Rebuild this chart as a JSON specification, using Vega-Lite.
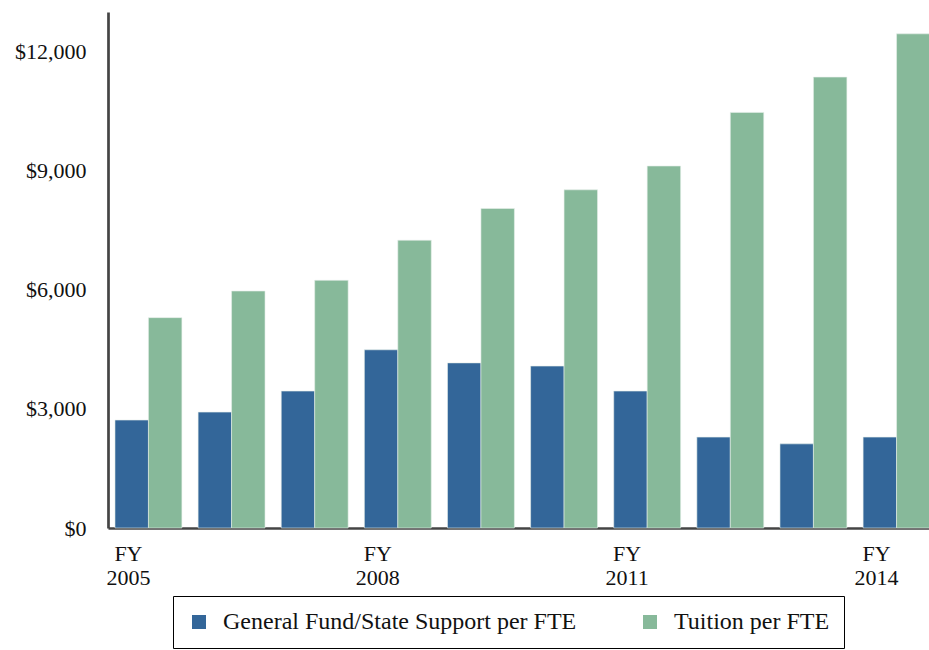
{
  "$schema": "https://vega.github.io/schema/vega-lite/v6.json",
  "autosize": {"type": "none"},
  "padding": {"left": 108, "top": 12, "right": 0, "bottom": 122},
  "width": 829,
  "height": 516,
  "background": "white",
  "config": {
    "view": {"stroke": null},
    "font": "Liberation Serif"
  },
  "data": {
    "values": [
      {"year": "2005", "series": "General Fund/State Support per FTE", "value": 2720},
      {"year": "2005", "series": "Tuition per FTE", "value": 5300},
      {"year": "2006", "series": "General Fund/State Support per FTE", "value": 2920},
      {"year": "2006", "series": "Tuition per FTE", "value": 5970},
      {"year": "2007", "series": "General Fund/State Support per FTE", "value": 3450},
      {"year": "2007", "series": "Tuition per FTE", "value": 6240},
      {"year": "2008", "series": "General Fund/State Support per FTE", "value": 4490},
      {"year": "2008", "series": "Tuition per FTE", "value": 7250},
      {"year": "2009", "series": "General Fund/State Support per FTE", "value": 4160},
      {"year": "2009", "series": "Tuition per FTE", "value": 8050},
      {"year": "2010", "series": "General Fund/State Support per FTE", "value": 4080},
      {"year": "2010", "series": "Tuition per FTE", "value": 8520},
      {"year": "2011", "series": "General Fund/State Support per FTE", "value": 3450},
      {"year": "2011", "series": "Tuition per FTE", "value": 9120},
      {"year": "2012", "series": "General Fund/State Support per FTE", "value": 2290},
      {"year": "2012", "series": "Tuition per FTE", "value": 10470},
      {"year": "2013", "series": "General Fund/State Support per FTE", "value": 2120},
      {"year": "2013", "series": "Tuition per FTE", "value": 11360},
      {"year": "2014", "series": "General Fund/State Support per FTE", "value": 2290},
      {"year": "2014", "series": "Tuition per FTE", "value": 12450}
    ]
  },
  "mark": {"type": "bar", "stroke": "#e6eee9", "strokeWidth": 0.6},
  "encoding": {
    "x": {
      "field": "year",
      "type": "nominal",
      "sort": null,
      "scale": {"paddingInner": 0.195, "paddingOuter": 0.084},
      "axis": {
        "title": null,
        "labelAngle": 0,
        "ticks": false,
        "tickSize": 0,
        "domainColor": "#444444",
        "domainWidth": 2.7,
        "labelFont": "Liberation Serif",
        "labelFontSize": 22,
        "labelColor": "#111111",
        "labelLineHeight": 24,
        "labelBaseline": "top",
        "labelPadding": 15,
        "labelOffset": -20,
        "labelExpr": "indexof(['2005','2008','2011','2014'], datum.value) >= 0 ? ['FY', datum.value] : ''"
      }
    },
    "xOffset": {
      "field": "series",
      "type": "nominal",
      "sort": ["General Fund/State Support per FTE", "Tuition per FTE"]
    },
    "y": {
      "field": "value",
      "type": "quantitative",
      "scale": {"domain": [0, 13000], "nice": false},
      "axis": {
        "title": null,
        "values": [0, 3000, 6000, 9000, 12000],
        "format": "$,.0f",
        "grid": false,
        "ticks": false,
        "tickSize": 0,
        "domainColor": "#444444",
        "domainWidth": 2.7,
        "labelFont": "Liberation Serif",
        "labelFontSize": 22,
        "labelColor": "#111111",
        "labelPadding": 22
      }
    },
    "color": {
      "field": "series",
      "type": "nominal",
      "scale": {
        "domain": ["General Fund/State Support per FTE", "Tuition per FTE"],
        "range": ["#336699", "#87B99A"]
      },
      "legend": {
        "title": null,
        "orient": "none",
        "legendX": 65,
        "legendY": 584,
        "direction": "horizontal",
        "strokeColor": "#000000",
        "padding": 14,
        "symbolType": "square",
        "symbolSize": 196,
        "symbolStrokeWidth": 0,
        "labelFont": "Liberation Serif",
        "labelFontSize": 24,
        "labelColor": "#111111",
        "labelOffset": 12,
        "columnPadding": 61,
        "labelLimit": 0,
        "encode": {
          "legend": {"strokeWidth": {"value": 2.7}}
        }
      }
    }
  }
}
